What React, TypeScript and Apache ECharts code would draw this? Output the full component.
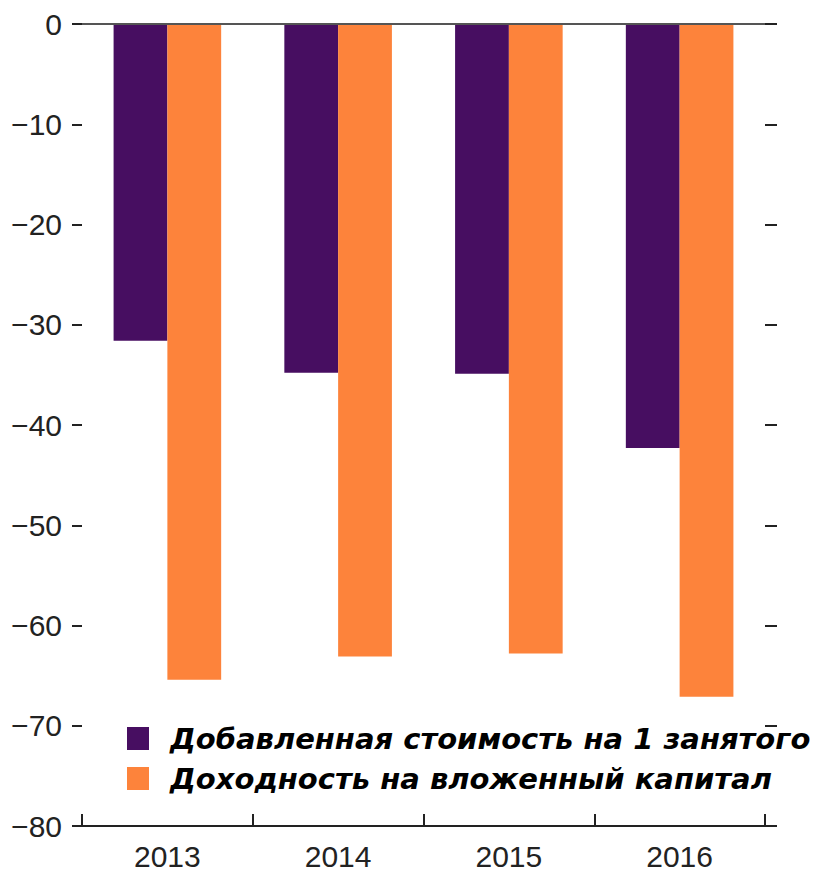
import React, { useEffect, useRef } from "react";
import * as echarts from "echarts";

const categories = ["2013", "2014", "2015", "2016"];
const valueAdded = [-31.6, -34.8, -34.9, -42.3];
const returnOnCapital = [-65.4, -63.1, -62.8, -67.1];
const seriesNames = [
  "Добавленная стоимость на 1 занятого",
  "Доходность на вложенный капитал",
];

const FONT = "'Liberation Sans', Arial, sans-serif";

export default function App() {
  const ref = useRef<HTMLDivElement>(null);
  useEffect(() => {
    document.body.style.margin = "0";
    const chart = echarts.init(ref.current!, null, { renderer: "svg" });
    const tickStyle = { color: "#222", width: 2 };
    chart.setOption({
      animation: false,
      backgroundColor: "#fff",
      grid: { left: 82, right: 62, top: 24, bottom: 47 },
      legend: {
        orient: "vertical",
        left: 127,
        top: 724,
        padding: 0,
        itemWidth: 22,
        itemHeight: 23,
        itemGap: 11,
        icon: "rect",
        textStyle: {
          fontFamily: "'DejaVu Sans', sans-serif",
          fontSize: 29,
          fontStyle: "italic",
          fontWeight: "bold",
          color: "#000",
          lineHeight: 23,
          padding: [0, 0, 0, 16],
        },
        data: seriesNames,
      },
      xAxis: {
        type: "category",
        data: categories,
        axisLine: { show: true, onZero: false, lineStyle: tickStyle },
        axisTick: {
          show: true,
          inside: true,
          length: 12,
          alignWithLabel: false,
          interval: 0,
          lineStyle: tickStyle,
        },
        axisLabel: {
          fontFamily: FONT,
          fontSize: 30,
          color: "#222",
          margin: 15,
        },
      },
      yAxis: [
        {
          type: "value",
          min: -80,
          max: 0,
          interval: 10,
          axisLine: { show: false },
          axisTick: { show: true, length: 10, lineStyle: tickStyle },
          splitLine: { show: false },
          axisLabel: {
            fontFamily: FONT,
            fontSize: 30,
            color: "#222",
            margin: 20,
            formatter: (v: number) => String(v).replace("-", "\u2212"),
          },
        },
        {
          type: "value",
          position: "right",
          min: -80,
          max: 0,
          interval: 10,
          axisLine: { show: false },
          axisTick: { show: true, length: 12, lineStyle: tickStyle },
          splitLine: { show: false },
          axisLabel: { show: false },
        },
      ],
      series: [
        {
          name: seriesNames[0],
          type: "bar",
          data: valueAdded,
          barGap: "0%",
          barCategoryGap: "37%",
          itemStyle: { color: "#470e61" },
          markLine: {
            silent: true,
            symbol: "none",
            label: { show: false },
            lineStyle: { color: "#555", width: 2, type: "solid" },
            data: [{ yAxis: 0 }],
          },
        },
        {
          name: seriesNames[1],
          type: "bar",
          data: returnOnCapital,
          itemStyle: { color: "#fd833b" },
        },
      ],
    });
    return () => chart.dispose();
  }, []);
  return <div ref={ref} style={{ width: 827, height: 873 }} />;
}
